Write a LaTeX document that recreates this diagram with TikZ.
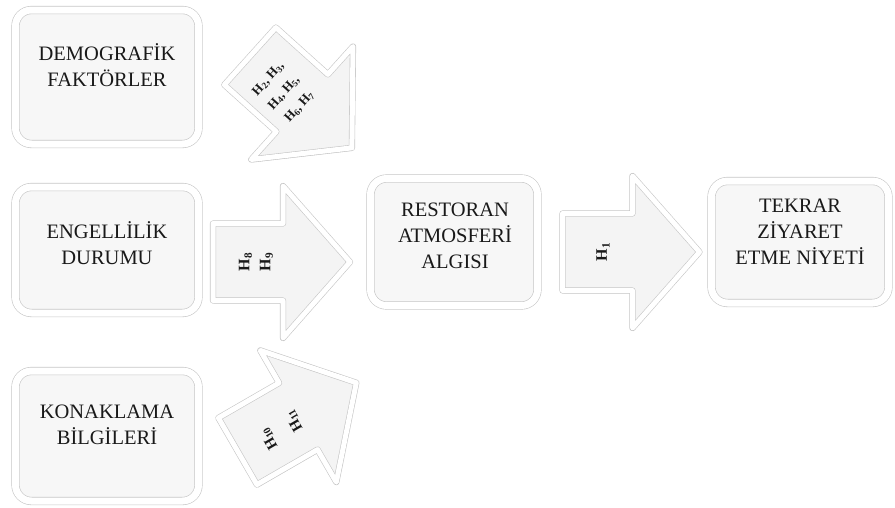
\documentclass[tikz,border=0pt]{standalone}
\usepackage{fontspec}
\setmainfont{Liberation Serif}
\usetikzlibrary{shadows}

\tikzset{
  factor/.style={draw=gray!45, line width=0.6pt, double=white, double distance=7pt,
    fill=gray!6, rounded corners=16pt, inner sep=0pt,
    drop shadow={shadow xshift=1pt, shadow yshift=-3pt, opacity=0.22}},
  factortext/.style={align=center, text=black!90, font=\fontsize{20.5}{26}\selectfont},
  hyp/.style={align=center, text=black!90, inner sep=1pt, font=\bfseries\fontsize{16}{21}\selectfont},
  arrowbody/.style={draw=gray!45, line width=0.6pt, double=white, double distance=5pt,
    fill=gray!9, line join=round,
    drop shadow={shadow xshift=1pt, shadow yshift=-3pt, opacity=0.22}},
  blockarrow/.pic={
    \draw[arrowbody] (-68.5,-38.5) -- (1.5,-38.5) -- (1.5,-76) -- (68.5,0)
      -- (1.5,76) -- (1.5,38.5) -- (-68.5,38.5) -- cycle;
  }
}

\begin{document}
\begin{tikzpicture}[x=1pt, y=-1pt]
    \useasboundingbox (0,0) rectangle (895,507);

    % Factor boxes
    \node[factor, minimum width=183pt, minimum height=134pt] (demo) at (107,77) {};
    \node[factor, minimum width=183pt, minimum height=126pt] (engel) at (107,250) {};
    \node[factor, minimum width=183pt, minimum height=130pt] (konak) at (107,436) {};
    \node[factor, minimum width=167pt, minimum height=127pt] (restoran) at (454,242) {};
    \node[factor, minimum width=177pt, minimum height=122pt] (tekrar) at (800,242) {};

    % Box texts
    \node[factortext] (demo-t) at (107,65) {DEMOGRAFİK\\FAKTÖRLER};
    \node[factortext] (engel-t) at (107,243) {ENGELLİLİK\\DURUMU};
    \node[factortext] (konak-t) at (107,425) {KONAKLAMA\\BİLGİLERİ};
    \node[factortext] (restoran-t) at (455,236) {RESTORAN\\ATMOSFERİ\\ALGISI};
    \node[factortext] (tekrar-t) at (800,232) {TEKRAR\\ZİYARET\\ETME NİYETİ};

    % Block arrows
    \pic[rotate=-42] at (301,102) {blockarrow};
    \pic at (281.5,262) {blockarrow};
    \pic[rotate=30] at (297,417) {blockarrow};
    \pic at (631,252) {blockarrow};

    % Hypotheses
    \node[hyp, rotate=48, font=\bfseries\fontsize{13}{21}\selectfont] (h2) at (284,93)
      {H\textsubscript{2}, H\textsubscript{3},\\H\textsubscript{4}, H\textsubscript{5},\\H\textsubscript{6}, H\textsubscript{7}};
    \node[hyp, rotate=90] (h8) at (256,262) {H\textsubscript{8}\\H\textsubscript{9}};
    \node[hyp, rotate=120, inner sep=0pt, font=\bfseries\fontsize{15}{18}\selectfont] (h10) at (269,439)
      {H\textsubscript{10}};
    \node[hyp, rotate=120, inner sep=0pt, font=\bfseries\fontsize{15}{18}\selectfont] (h11) at (294,421)
      {H\textsubscript{11}};
    \node[hyp, rotate=90] (h1) at (603,252) {H\textsubscript{1}};
\end{tikzpicture}
\end{document}
